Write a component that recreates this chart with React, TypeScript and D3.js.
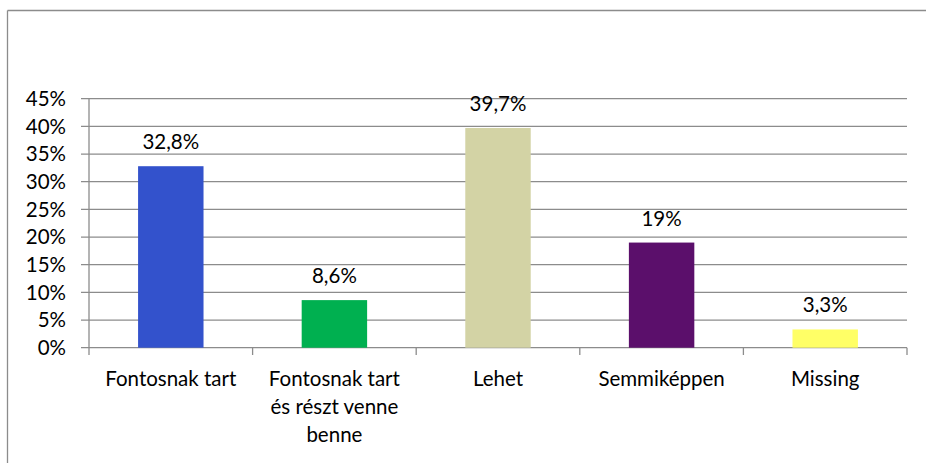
import React from "react";
import * as d3 from "d3";

// chart data
const categories = ["Fontosnak tart", "Fontosnak tart\nés részt venne\nbenne", "Lehet", "Semmiképpen", "Missing"];
const values = [32.8, 8.6, 39.7, 19, 3.3];
const valueLabels = ["32,8%", "8,6%", "39,7%", "19%", "3,3%"];
const barColors = ["#3352CC", "#00B050", "#D3D3A5", "#5B0F6B", "#FFFF66"];
const yTicks = [0, 5, 10, 15, 20, 25, 30, 35, 40, 45];

const W = 926;
const H = 463;
const font = "Lato, 'Open Sans', sans-serif";
const fs = 20.5;

export default function App() {
  const x = d3.scaleBand<string>().domain(categories).range([89, 907]).paddingInner(0.6).paddingOuter(0.3);
  const band = d3.scaleBand<string>().domain(categories).range([89, 907]);
  const y = d3.scaleLinear().domain([0, 45]).range([347.7, 98.7]);
  const grid = "#8c8c8c";
  const mid = (c: string) => band(c)! + band.bandwidth() / 2;

  return (
    <svg width={W} height={H} style={{ position: "absolute", left: 0, top: 0, overflow: "hidden" }} fontFamily={font}>
      <rect x={0} y={0} width={W} height={H} fill="#fff" />
      {/* outer frame, cut off at right and bottom */}
      <line x1={7.5} x2={W} y1={10.5} y2={10.5} stroke={grid} strokeWidth={1.3} />
      <line x1={7.5} x2={7.5} y1={10.5} y2={H} stroke={grid} strokeWidth={1.3} />

      {/* gridlines + y labels */}
      {yTicks.map((t) => (
        <g key={t}>
          <line x1={81} x2={907} y1={y(t)} y2={y(t)} stroke={grid} strokeWidth={1.3} />
          <text x={66} y={y(t)} dy="0.36em" textAnchor="end" fontSize={fs} fill="#000">
            {t}%
          </text>
        </g>
      ))}

      {/* axes */}
      <line x1={89} x2={89} y1={y(45)} y2={355} stroke={grid} strokeWidth={1.3} />
      {categories.map((c, i) => (
        <line key={"t" + i} x1={band(c)! + band.bandwidth()} x2={band(c)! + band.bandwidth()} y1={y(0)} y2={355} stroke={grid} strokeWidth={1.3} />
      ))}

      {/* bars */}
      {categories.map((c, i) => (
        <rect key={"b" + i} x={x(c)} y={y(values[i])} width={x.bandwidth()} height={y(0) - y(values[i])} fill={barColors[i]} />
      ))}

      {/* value labels */}
      {categories.map((c, i) => (
        <text key={"v" + i} x={mid(c)} y={y(values[i]) - 17} textAnchor="middle" fontSize={fs} fill="#000">
          {valueLabels[i]}
        </text>
      ))}

      {/* category labels */}
      {categories.map((c, i) => (
        <text key={"c" + i} x={mid(c)} y={386} textAnchor="middle" fontSize={fs} fill="#000">
          {c.split("\n").map((line, j) => (
            <tspan key={j} x={mid(c)} dy={j === 0 ? 0 : 27.8}>
              {line}
            </tspan>
          ))}
        </text>
      ))}
    </svg>
  );
}
